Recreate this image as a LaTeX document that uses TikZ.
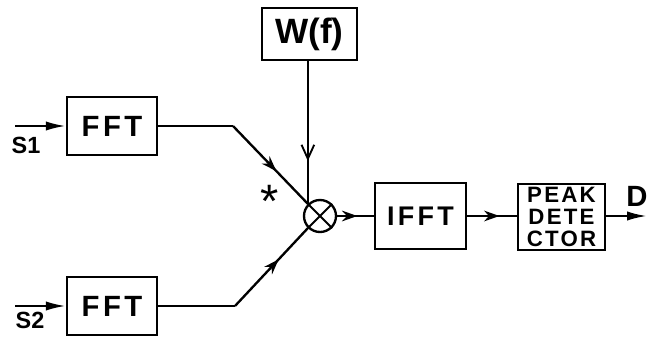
\documentclass[tikz,border=0pt]{standalone}
\usepackage{fontspec}
\setmainfont{Liberation Sans}
\usetikzlibrary{arrows.meta,decorations.markings}
\begin{document}
\begin{tikzpicture}[x=0.3mm, y=-0.3mm, line width=2pt,
    blk/.style={draw, line width=2pt, inner sep=0pt, align=center},
    midarrow/.style={postaction={decorate}, decoration={markings,
      mark=at position #1 with {\arrow{Stealth[length=4.6mm, width=3.2mm]}}}},
    midbarb/.style={postaction={decorate}, decoration={markings,
      mark=at position #1 with {\arrow{Straight Barb[length=4.2mm, width=3.8mm, line width=1.6pt]}}}},
    endarrow/.style={-{Latex[length=6mm, width=2.8mm]}}]
  \useasboundingbox (0,0) rectangle (651,338);

  % ── FFT stages (left) ───────────────────────────────────────────
  \node[blk, minimum width=27mm, minimum height=17.4mm,
        font=\fontsize{25}{27}\selectfont\bfseries\addfontfeature{LetterSpace=12}] (fft1) at (112,126) {FFT};
  \node[blk, minimum width=27mm, minimum height=17.4mm,
        font=\fontsize{25}{27}\selectfont\bfseries\addfontfeature{LetterSpace=12}] (fft2) at (112,306) {FFT};
  \coordinate (s1in) at (15,126);
  \coordinate (s2in) at (15,306);
  \node[font=\fontsize{20}{22}\selectfont\bfseries] (s1) at (26,145) {S1};
  \node[font=\fontsize{20}{22}\selectfont\bfseries] (s2) at (30,320) {S2};
  \draw[endarrow] (s1in) -- (fft1.west);
  \draw[endarrow] (s2in) -- (fft2.west);

  % ── Weighting and multiplier (centre) ───────────────────────────
  \node[blk, minimum width=28.5mm, minimum height=15.6mm,
        font=\fontsize{30}{32}\selectfont\bfseries] (wf) at (309.5,34) {W(f)};
  \node[draw, circle, line width=2pt, minimum size=9.6mm, inner sep=0pt] (mul) at (320,216) {};
  \draw[line width=1.6pt] (mul.45) -- (mul.225) (mul.135) -- (mul.315);
  \node[font=\fontsize{40}{40}\selectfont] (star) at (270,201) {*};

  \coordinate (b1) at (233,126);
  \coordinate (b2) at (235,306);
  \draw (fft1.east) -- (b1);
  \draw[midarrow=0.58] (b1) -- (mul.135);
  \draw (fft2.east) -- (b2);
  \draw[midarrow=0.6] (b2) -- (mul.225);
  \draw[midbarb=0.7] (mul.135 |- wf.south) -- (mul.135);

  % ── IFFT and peak detector (right) ──────────────────────────────
  \node[blk, minimum width=27.3mm, minimum height=19.8mm,
        font=\fontsize{23}{25}\selectfont\bfseries\addfontfeature{LetterSpace=12}] (ifft) at (420.5,216) {IFFT};
  \node[blk, minimum width=26.1mm, minimum height=19.8mm,
        font=\fontsize{19}{18.5}\selectfont\bfseries\addfontfeature{LetterSpace=10}] (peak) at (561.5,217) {PEAK\\DETE\\CTOR};
  \coordinate (dout) at (647,216);
  \node[font=\fontsize{25}{26}\selectfont\bfseries] (dlab) at (637,196) {D};

  \draw[midarrow=0.55] (mul.east) -- (ifft.west);
  \draw[midarrow=0.65] (ifft.east) -- (peak.west |- ifft.east);
  \draw[endarrow] (peak.east |- ifft.east) -- (dout);
\end{tikzpicture}
\end{document}
